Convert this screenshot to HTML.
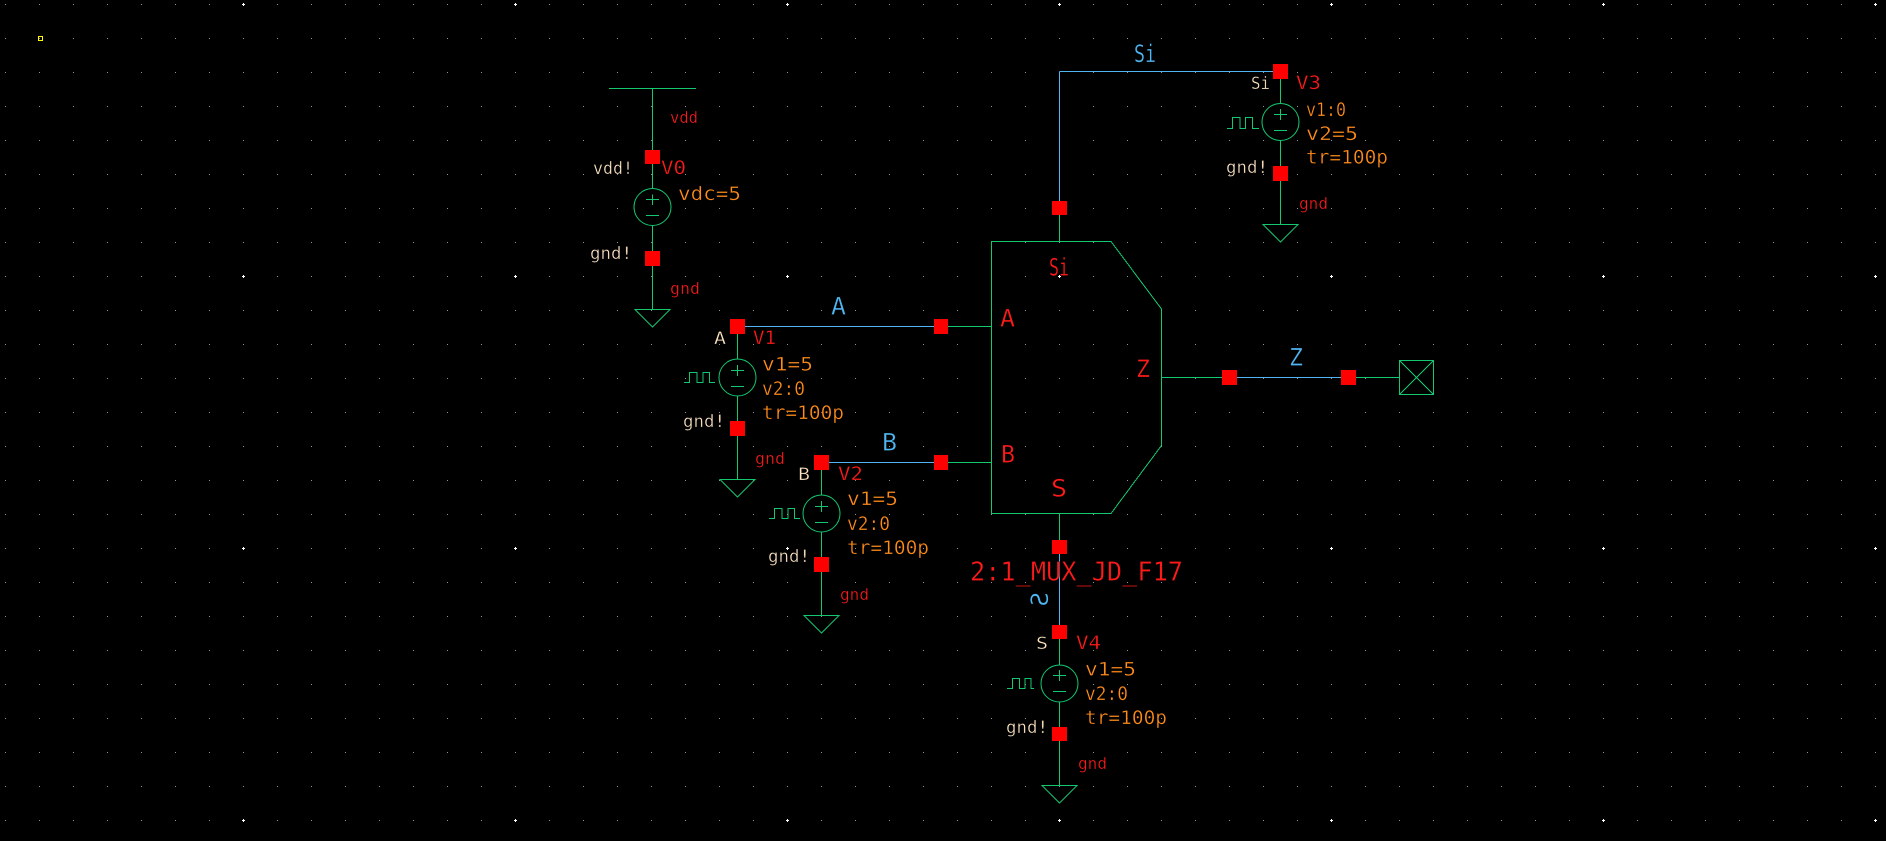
<!DOCTYPE html>
<html><head><meta charset="utf-8"><style>
html,body{margin:0;padding:0;background:#000;overflow:hidden}
svg{display:block}
text{font-family:"DejaVu Sans Mono","Liberation Mono",monospace;stroke:#000;stroke-width:0.35;paint-order:normal;}
.r{fill:#ff1a1a}.o{fill:#ff8c1a}.w{fill:#ffe6c4}.b{fill:#4fb6f2}
.g{stroke:#14c870;stroke-width:1;fill:none}
.bl{stroke:#4fb6f2;stroke-width:1;fill:none}
.p{fill:#ff0000}
</style></head><body>
<svg width="1886" height="841" viewBox="0 0 1886 841" xmlns="http://www.w3.org/2000/svg">
<defs>
<pattern id="gd" x="5" y="4" width="34" height="34" patternUnits="userSpaceOnUse"><rect x="0" y="0" width="1" height="1" fill="#9494a6"/></pattern>
<pattern id="mj" x="242" y="3" width="272" height="272" patternUnits="userSpaceOnUse"><rect x="0" y="1" width="3" height="1" fill="#fff"/><rect x="1" y="0" width="1" height="3" fill="#fff"/></pattern>
</defs>
<rect width="1886" height="841" fill="#000"/>
<rect width="1886" height="841" fill="url(#gd)"/>
<rect width="1886" height="841" fill="url(#mj)"/>
<rect x="38.5" y="36.5" width="4" height="4" fill="none" stroke="#ffff00" stroke-width="1" shape-rendering="crispEdges"/>

<g shape-rendering="crispEdges">
<line class="g" x1="609" y1="88.5" x2="696" y2="88.5"/>
<line class="g" x1="652.5" y1="88" x2="652.5" y2="309.5"/>
<line class="g" x1="737.5" y1="326" x2="737.5" y2="479.5"/>
<line class="g" x1="821.5" y1="462" x2="821.5" y2="615.5"/>
<line class="g" x1="1280.5" y1="72" x2="1280.5" y2="224.5"/>
<line class="g" x1="1059.5" y1="639" x2="1059.5" y2="786"/>
<polygon class="g" points="991.5,241.5 1111,241.5 1161.5,309 1161.5,445.5 1111,513.5 991.5,513.5"/>
<line class="g" x1="1059.5" y1="215" x2="1059.5" y2="241.5"/>
<line class="g" x1="948" y1="326.5" x2="991.5" y2="326.5"/>
<line class="g" x1="948" y1="462.5" x2="991.5" y2="462.5"/>
<line class="g" x1="1059.5" y1="513.5" x2="1059.5" y2="540"/>
<line class="g" x1="1161.5" y1="377.5" x2="1222" y2="377.5"/>
<line class="g" x1="1356" y1="377.5" x2="1399.5" y2="377.5"/>
<rect class="g" x="1399.5" y="360.5" width="34" height="34"/>
<line class="g" x1="1399.5" y1="360.5" x2="1433.5" y2="394.5"/>
<line class="g" x1="1433.5" y1="360.5" x2="1399.5" y2="394.5"/>
<line class="bl" x1="744" y1="326.5" x2="934" y2="326.5"/>
<line class="bl" x1="829" y1="462.5" x2="934" y2="462.5"/>
<line class="bl" x1="1059.5" y1="71.5" x2="1273" y2="71.5"/>
<line class="bl" x1="1059.5" y1="71.5" x2="1059.5" y2="201"/>
<line class="bl" x1="1059.5" y1="554" x2="1059.5" y2="625"/>
<line class="bl" x1="1237" y1="377.5" x2="1341" y2="377.5"/>
</g>

<g class="g">
<circle cx="652.5" cy="207" r="18.5" fill="#000"/>
<circle cx="737.5" cy="377.5" r="18.5" fill="#000"/>
<circle cx="821.5" cy="513.5" r="18.5" fill="#000"/>
<circle cx="1280.5" cy="122" r="18.5" fill="#000"/>
<circle cx="1059.5" cy="683.5" r="18.5" fill="#000"/>
</g>
<g class="g" shape-rendering="crispEdges">
<path d="M646 199.5H659M652.5 194.5V205M646 215.5H659"/>
<path d="M731 370.5H744M737.5 365V376M731 386.5H744"/>
<path d="M815 506.5H828M821.5 501V512M815 522.5H828"/>
<path d="M1274 114.5H1287M1280.5 109V120M1274 130.5H1287"/>
<path d="M1053 675.5H1066M1059.5 670V681M1053 691.5H1066"/>
<path d="M684 382.5H689.5V372.5H697V382.5H703V372.5H709.5V382.5H715"/>
<path d="M769 518.5H774.5V508.5H782V518.5H788V508.5H794.5V518.5H800"/>
<path d="M1227 128.5H1232.5V117.5H1240V128.5H1245.5V117.5H1252.5V128.5H1259"/>
<path d="M1007 688.5H1012.5V678.5H1019.5V688.5H1025V678.5H1031V688.5H1034"/>
</g>
<g class="g">
<polygon points="635,309.5 670,309.5 652.5,327"/>
<polygon points="720,479.5 755,479.5 737.5,497"/>
<polygon points="804,615.5 839,615.5 821.5,633"/>
<polygon points="1263,224.5 1298,224.5 1280.5,242"/>
<polygon points="1042,785.5 1077,785.5 1059.5,803"/>
</g>

<g class="p" shape-rendering="crispEdges">
<rect x="645" y="150" width="15" height="14"/>
<rect x="645" y="251" width="15" height="15"/>
<rect x="730" y="319" width="15" height="15"/>
<rect x="730" y="421" width="15" height="15"/>
<rect x="934" y="319" width="14" height="15"/>
<rect x="814" y="455" width="15" height="15"/>
<rect x="814" y="557" width="15" height="15"/>
<rect x="934" y="455" width="14" height="15"/>
<rect x="1052" y="201" width="15" height="14"/>
<rect x="1273" y="64" width="15" height="15"/>
<rect x="1273" y="166" width="15" height="15"/>
<rect x="1052" y="540" width="15" height="14"/>
<rect x="1052" y="625" width="15" height="14"/>
<rect x="1052" y="727" width="15" height="14"/>
<rect x="1222" y="370" width="15" height="15"/>
<rect x="1341" y="370" width="15" height="15"/>
</g>

<g class="r" font-size="16">
<text x="670" y="123" textLength="28" lengthAdjust="spacingAndGlyphs">vdd</text>
<text x="670" y="294" textLength="30" lengthAdjust="spacingAndGlyphs">gnd</text>
<text x="755" y="464" textLength="30" lengthAdjust="spacingAndGlyphs">gnd</text>
<text x="840" y="600" textLength="29" lengthAdjust="spacingAndGlyphs">gnd</text>
<text x="1299" y="209" textLength="29" lengthAdjust="spacingAndGlyphs">gnd</text>
<text x="1078" y="769" textLength="29" lengthAdjust="spacingAndGlyphs">gnd</text>
</g>

<g class="w" font-size="17">
<text x="593" y="174" textLength="40" lengthAdjust="spacingAndGlyphs">vdd!</text>
<text x="590" y="259" textLength="42" lengthAdjust="spacingAndGlyphs">gnd!</text>
<text x="714" y="344" textLength="12" lengthAdjust="spacingAndGlyphs">A</text>
<text x="683" y="427" textLength="42" lengthAdjust="spacingAndGlyphs">gnd!</text>
<text x="798" y="480" textLength="12" lengthAdjust="spacingAndGlyphs">B</text>
<text x="768" y="562" textLength="42" lengthAdjust="spacingAndGlyphs">gnd!</text>
<text x="1251" y="89" textLength="19" lengthAdjust="spacingAndGlyphs">Si</text>
<text x="1226" y="173" textLength="42" lengthAdjust="spacingAndGlyphs">gnd!</text>
<text x="1036" y="649" textLength="12" lengthAdjust="spacingAndGlyphs">S</text>
<text x="1006" y="733" textLength="42" lengthAdjust="spacingAndGlyphs">gnd!</text>
</g>

<g class="r" font-size="19">
<text x="661" y="174" textLength="25" lengthAdjust="spacingAndGlyphs">V0</text>
<text x="753" y="344" textLength="23" lengthAdjust="spacingAndGlyphs">V1</text>
<text x="838" y="480" textLength="25" lengthAdjust="spacingAndGlyphs">V2</text>
<text x="1296" y="89" textLength="25" lengthAdjust="spacingAndGlyphs">V3</text>
<text x="1076" y="649" textLength="25" lengthAdjust="spacingAndGlyphs">V4</text>
</g>

<g class="o" font-size="19">
<text x="678" y="200" textLength="63" lengthAdjust="spacingAndGlyphs">vdc=5</text>
<text x="762" y="370.5" textLength="51" lengthAdjust="spacingAndGlyphs">v1=5</text>
<text x="762" y="395" textLength="43" lengthAdjust="spacingAndGlyphs">v2:0</text>
<text x="762" y="419" textLength="82" lengthAdjust="spacingAndGlyphs">tr=100p</text>
<text x="847" y="505" textLength="51" lengthAdjust="spacingAndGlyphs">v1=5</text>
<text x="847" y="530" textLength="43" lengthAdjust="spacingAndGlyphs">v2:0</text>
<text x="847" y="554" textLength="82" lengthAdjust="spacingAndGlyphs">tr=100p</text>
<text x="1306" y="116" textLength="40" lengthAdjust="spacingAndGlyphs">v1:0</text>
<text x="1306" y="140" textLength="52" lengthAdjust="spacingAndGlyphs">v2=5</text>
<text x="1306" y="163.5" textLength="82" lengthAdjust="spacingAndGlyphs">tr=100p</text>
<text x="1085" y="675.5" textLength="51" lengthAdjust="spacingAndGlyphs">v1=5</text>
<text x="1085" y="700" textLength="43" lengthAdjust="spacingAndGlyphs">v2:0</text>
<text x="1085" y="724" textLength="82" lengthAdjust="spacingAndGlyphs">tr=100p</text>
</g>

<g class="b" font-size="24">
<text x="1134" y="62" textLength="22" lengthAdjust="spacingAndGlyphs">Si</text>
<text x="831" y="314.5" textLength="15" lengthAdjust="spacingAndGlyphs">A</text>
<text x="882" y="450.5" textLength="15" lengthAdjust="spacingAndGlyphs">B</text>
<text x="1289" y="365.5" textLength="14" lengthAdjust="spacingAndGlyphs">Z</text>
<text transform="translate(1039.2,599.3) rotate(-90) scale(-1,1)" x="0" y="8.7" text-anchor="middle">S</text>
</g>

<g class="r" font-size="24">
<text x="1049" y="275.5" textLength="20" lengthAdjust="spacingAndGlyphs">Si</text>
<text x="1000" y="326.5" textLength="15" lengthAdjust="spacingAndGlyphs">A</text>
<text x="1136" y="377" textLength="14" lengthAdjust="spacingAndGlyphs">Z</text>
<text x="1001" y="462.5" textLength="14" lengthAdjust="spacingAndGlyphs">B</text>
<text x="1051" y="496.5" textLength="16" lengthAdjust="spacingAndGlyphs">S</text>
<text x="970" y="580.5" font-size="26" textLength="213" lengthAdjust="spacingAndGlyphs">2:1_MUX_JD_F17</text>
</g>
</svg>
</body></html>
